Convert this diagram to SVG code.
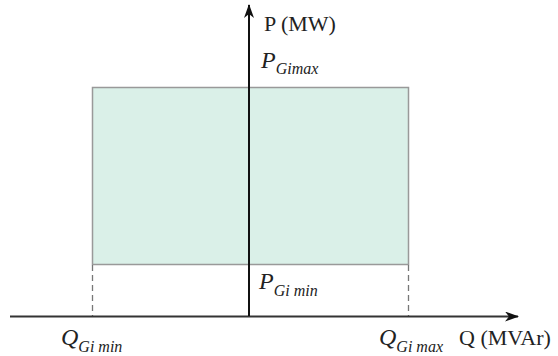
<svg xmlns="http://www.w3.org/2000/svg" width="558" height="356" viewBox="0 0 558 356">
<style>
.t{font-family:"Liberation Serif","Times New Roman",serif;fill:#222;font-size:22px}
.v{font-family:"Liberation Serif","Times New Roman",serif;font-style:italic;fill:#222;font-size:24px}
.s{font-size:16px;font-style:italic}
.dash{stroke:#777;stroke-width:1.3;stroke-dasharray:6,4;fill:none}
</style>
<defs>
<marker id="ah" markerWidth="14" markerHeight="10" refX="13" refY="5" orient="auto" markerUnits="userSpaceOnUse">
<path d="M0,0 L14,5 L0,10 L4,5 Z" fill="#111"/>
</marker>
</defs>
<g id="region">
<rect x="92.5" y="87.5" width="316" height="177" fill="#daf0e8" stroke="#999" stroke-width="1.5"/>
</g>
<g id="connectors">
<line class="dash" x1="92.5" y1="265" x2="92.5" y2="316"/>
<line class="dash" x1="408.5" y1="265" x2="408.5" y2="316"/>
<line x1="10" y1="316.5" x2="518" y2="316.5" stroke="#333" stroke-width="2" marker-end="url(#ah)"/>
<line x1="249" y1="316" x2="249" y2="5" stroke="#111" stroke-width="2" marker-end="url(#ah)"/>
</g>
<g id="labels">
<text class="t" x="264" y="31">P (MW)</text>
<text class="v" x="261" y="68">P<tspan class="s" dy="6">Gimax</tspan></text>
<text class="v" x="259" y="289">P<tspan class="s" dy="7">Gi min</tspan></text>
<text class="v" x="61" y="345">Q<tspan class="s" dy="7">Gi min</tspan></text>
<text class="v" x="379" y="345">Q<tspan class="s" dy="7">Gi max</tspan></text>
<text class="t" x="459" y="345">Q (MVAr)</text>
</g>
</svg>
